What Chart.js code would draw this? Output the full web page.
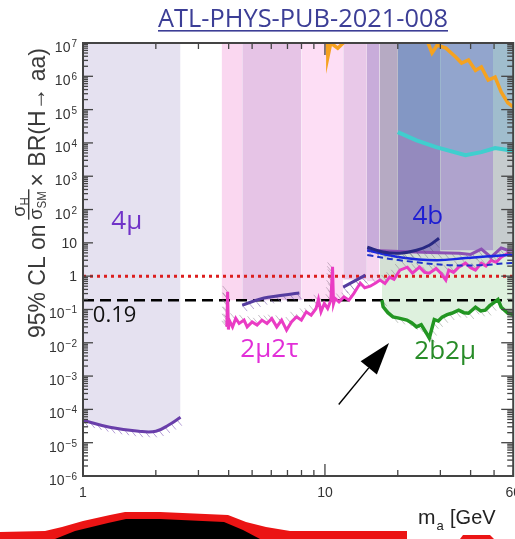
<!DOCTYPE html>
<html>
<head>
<meta charset="utf-8">
<script src="https://cdn.jsdelivr.net/npm/chart.js@4.4.1/dist/chart.umd.min.js"></script>
<style>
  html, body { margin: 0; padding: 0; background: #fff; overflow: hidden; }
</style>
</head>
<body>
<canvas id="limitChart" width="530" height="539"></canvas>
<script>
// m_a in GeV, 95% CL limits on sigma_H/sigma_SM x BR(H->aa)
const mu4Mass  = [1.0, 1.29, 1.70, 2.0, 2.26, 2.53];
const mu4Limit = [4.7e-5, 2.9e-5, 2.2e-5, 2.2e-5, 3.4e-5, 5.8e-5];

const tauMass  = [3.93, 3.96, 3.99, 4.02, 4.15, 4.28, 4.42, 4.63, 4.77, 5.0, 5.24, 5.49, 5.76, 6.03, 6.32, 6.62, 6.94, 7.27, 7.62, 7.99, 8.37, 8.77, 9.19, 9.4, 9.63, 9.94, 10.26, 10.58, 10.75, 10.85, 11.01, 11.43, 11.98, 12.56, 13.15, 14.0, 14.6, 15.38, 16.2, 16.89, 17.7, 18.5, 19.3, 20.4, 21.9, 23.0, 24.6, 25.8, 27.0, 28.8, 30.2, 31.6, 32.5, 34.0, 35.7, 38.1, 40.0, 41.9, 44.3, 46.3, 48.6, 51.0, 53.5, 57.0, 60];
const tauLimit = [0.030, 0.34, 0.025, 0.048, 0.030, 0.054, 0.038, 0.048, 0.030, 0.042, 0.034, 0.048, 0.038, 0.054, 0.030, 0.048, 0.024, 0.042, 0.060, 0.048, 0.085, 0.067, 0.107, 0.2, 0.085, 0.151, 0.107, 0.19, 1.9, 0.15, 0.214, 0.169, 0.239, 0.19, 0.30, 0.62, 0.45, 0.5, 0.62, 0.76, 0.6, 0.93, 0.8, 1.51, 1.86, 1.23, 1.86, 1.3, 1.23, 1.7, 1.2, 0.76, 1.51, 1.3, 1.86, 2.46, 1.8, 1.51, 2.46, 2.0, 3.0, 2.6, 3.7, 4.9, 4.0];

// second 2mu2tau result (two short pieces, null = gap)
const tau2Mass  = [4.55, 5.6, 7.84, 9.0, 11.9, 14.7];
const tau2Limit = [0.135, 0.22, 0.31, null, 0.47, 1.07];

const bbMuMass  = [17.2, 17.4, 18.2, 19.1, 20.2, 21.8, 22.8, 23.9, 25.0, 26.2, 27.0, 28.3, 29.4, 30.5, 32.0, 33.4, 35.7, 37.5, 39.2, 41.9, 44.0, 46.0, 48.0, 49.6, 51.9, 53.5, 57.0, 60];
const bbMuLimit = [0.19, 0.12, 0.08, 0.06, 0.055, 0.048, 0.04, 0.03, 0.035, 0.02, 0.0137, 0.05, 0.045, 0.059, 0.07, 0.077, 0.095, 0.08, 0.077, 0.117, 0.09, 0.095, 0.13, 0.155, 0.2, 0.117, 0.077, 0.07];

const bbNavyMass  = [14.96, 17.4, 20.4, 23.9, 27.0, 29.6];
const bbNavyLimit = [7.4, 5.3, 4.9, 6.0, 8.5, 13.8];
const bbObsMass   = [14.96, 20.4, 28.8, 38.1, 57.0, 60];
const bbObsLimit  = [6.0, 3.7, 3.0, 3.5, 4.3, 4.3];
const bbExpMass   = [14.96, 20.4, 32.5, 44.3, 57.0, 60];
const bbExpLimit  = [4.3, 3.0, 2.14, 2.14, 2.46, 2.5];
const bbAltMass   = [14.96, 20.4, 29.6, 36.0, 40.0, 44.3, 48.6, 53.5, 57.0, 60];
const bbAltLimit  = [6.0, 5.5, 5.0, 4.9, 4.5, 6.5, 3.7, 7.0, 6.0, 6.0];

const cyanMass  = [20.0, 23.9, 28.8, 38.1, 44.3, 50.5, 57.0, 60];
const cyanLimit = [2.1e4, 1.2e4, 7.5e3, 4.3e3, 5.3e3, 7e3, 6.1e3, 6e3];

const orangeMass  = [10.2, 10.28, 10.57, 11.3, 11.9, 12.1, 20.0, 26.3, 27.7, 29.1, 31.6, 34.7, 36.7, 39.2, 41.9, 44.3, 47.3, 50.5, 53.5, 57.0, 60];
const orangeLimit = [1.2e7, 3.8e6, 1e7, 7e6, 1e7, 1.3e7, null, 1.3e7, 5e6, 8.6e6, 7e6, 3.8e6, 2.5e6, 3.1e6, 1.5e6, 1.9e6, 7.7e5, 9.5e5, 3.4e5, 1.6e5, 1.2e5];

// excluded mass windows (top down to a floor value)
const bandFrom  = [3.74, 4.55, 8.0, 11.9, 14.9, 16.8, 20, 30, 49.5];
const bandTo    = [4.55, 8.0, 11.9, 14.9, 16.8, 20, 30, 49.5, 60];
const bandFloor = [0.19, 0.19, 0.2, 0.8, 5.3, 5.0, 5.0, 6.0, 6.0];

const smRef = 1;
const brRef = 0.19;

const yTickValues = [1e7, 1e6, 1e5, 1e4, 1e3, 1e2, 10, 1, 0.1, 1e-2, 1e-3, 1e-4, 1e-5, 1e-6];
const yTickBase   = ['10', '10', '10', '10', '10', '10', '10', '1', '10', '10', '10', '10', '10', '10'];
const yTickExp    = ['7', '6', '5', '4', '3', '2', '', '', '\u22121', '\u22122', '\u22123', '\u22124', '\u22125', '\u22126'];
const xTickValues = [1, 10, 60];
const xTickLabels = ['1', '10', '60'];

// styles
const bandColors = ['rgb(250,215,240)', 'rgb(230,196,230)', 'rgb(253,222,245)', 'rgb(232,200,232)',
                    'rgb(200,172,218)', 'rgb(182,170,195)', 'rgb(148,138,190)', 'rgb(175,163,205)', 'rgb(198,204,206)'];
const SANS = '"Liberation Sans", Arial, sans-serif';
const OPEN = '"Open Sans", "Noto Sans", sans-serif';

function pts(xs, ys) {
    return xs.map((x, i) => ({ x: x, y: ys[i] }));
}

const datasets = [];
const hatchSets = []; // [dataset index, colour, dx, dy]

// 2b2mu excluded region (light green), fill to top
datasets.push({ data: pts(bbMuMass, bbMuLimit), fill: 'end', backgroundColor: 'rgb(222,241,222)', borderWidth: 0, order: 40 });
// 2mu2tau high mass part, grey-green
const hiTau = tauMass.map((m, i) => ({ x: m, y: tauLimit[i] })).filter(p => p.x >= 16.8);
datasets.push({ data: hiTau, fill: 'end', backgroundColor: 'rgb(212,224,212)', borderWidth: 0, order: 39 });
datasets.push({ data: pts([14.9, 16.8], [0.7, 0.7]), fill: 'end', backgroundColor: 'rgb(246,214,240)', borderWidth: 0, order: 38 });

bandFrom.forEach((x0, i) => {
    datasets.push({
        data: pts([x0, bandTo[i]], [bandFloor[i], bandFloor[i]]),
        fill: 'end', backgroundColor: bandColors[i], borderWidth: 0, order: 30
    });
});

// cyan limit with the bluish shade above it
datasets.push({ data: pts(cyanMass, cyanLimit), fill: 'end', backgroundColor: 'rgba(108,170,205,0.42)',
                borderColor: 'rgb(64,206,206)', borderWidth: 4, order: 20 });

// 4mu
hatchSets.push([datasets.length, 'rgba(120,80,180,0.55)', 5, 6]);
datasets.push({ data: pts(mu4Mass, mu4Limit), fill: 'end', backgroundColor: 'rgb(229,225,240)',
                borderColor: 'rgb(105,62,170)', borderWidth: 3, tension: 0.4, order: 18 });

// reference lines
datasets.push({ data: pts([1, 60], [smRef, smRef]), borderColor: 'rgb(220,30,30)', borderWidth: 3, borderDash: [3, 4], order: 12 });
datasets.push({ data: pts([1, 60], [brRef, brRef]), borderColor: '#000', borderWidth: 2.5, borderDash: [11, 6], order: 12 });

hatchSets.push([datasets.length, 'rgba(130,110,130,0.45)', -5, -6]);
datasets.push({ data: pts(tauMass, tauLimit), borderColor: 'rgb(234,60,196)', borderWidth: 3, order: 6 });
hatchSets.push([datasets.length, 'rgba(110,80,170,0.5)', 5, 6]);
datasets.push({ data: pts(tau2Mass, tau2Limit), borderColor: 'rgb(85,60,160)', borderWidth: 3, tension: 0.3, order: 5 });
hatchSets.push([datasets.length, 'rgba(120,130,120,0.45)', 5, 6]);
datasets.push({ data: pts(bbMuMass, bbMuLimit), borderColor: 'rgb(34,150,34)', borderWidth: 3.5, order: 6 });
hatchSets.push([datasets.length, 'rgba(110,110,130,0.45)', 5, 6]);
datasets.push({ data: pts(bbAltMass, bbAltLimit), borderColor: 'rgb(140,80,180)', borderWidth: 3, order: 5 });
datasets.push({ data: pts(bbExpMass, bbExpLimit), borderColor: 'rgb(30,50,200)', borderWidth: 2, borderDash: [6, 4], tension: 0.4, order: 4 });
datasets.push({ data: pts(bbObsMass, bbObsLimit), borderColor: 'rgb(25,40,225)', borderWidth: 2.5, tension: 0.4, order: 4 });
hatchSets.push([datasets.length, 'rgba(90,90,120,0.45)', 5, 6]);
datasets.push({ data: pts(bbNavyMass, bbNavyLimit), borderColor: 'rgb(40,40,130)', borderWidth: 3, tension: 0.4, order: 3 });
datasets.push({ data: pts(orangeMass, orangeLimit), borderColor: 'rgb(245,162,32)', borderWidth: 3.5, order: 3 });

// short hatch strokes along a limit curve, on its allowed side
function drawHatch(chart, idx, color, hx, hy) {
    const ctx = chart.ctx;
    const a = chart.chartArea;
    const els = chart.getDatasetMeta(idx).data;
    ctx.save();
    ctx.beginPath();
    ctx.rect(a.left, a.top, a.right - a.left, a.bottom - a.top);
    ctx.clip();
    ctx.strokeStyle = color;
    ctx.lineWidth = 1;
    let carry = 0;
    for (let i = 1; i < els.length; i++) {
        const p0 = els[i - 1], p1 = els[i];
        if (p0.skip || p1.skip) { carry = 0; continue; }
        const dx = p1.x - p0.x, dy = p1.y - p0.y;
        const len = Math.hypot(dx, dy);
        let s = carry;
        while (s < len) {
            const px = p0.x + dx * s / len, py = p0.y + dy * s / len;
            ctx.beginPath(); ctx.moveTo(px, py); ctx.lineTo(px + hx, py + hy); ctx.stroke();
            s += 7;
        }
        carry = s - len;
    }
    ctx.restore();
}

// axes, titles, labels and the rest of the picture
const decor = {
    id: 'decor',
    beforeDatasetDraw(chart, args) {
        hatchSets.forEach(h => { if (h[0] === args.index) drawHatch(chart, h[0], h[1], h[2], h[3]); });
    },
    afterDatasetsDraw(chart) {
        const { ctx, chartArea: a, scales: { x, y } } = chart;
        ctx.save();
        ctx.strokeStyle = '#444';
        ctx.lineWidth = 1.3;
        const seg = (x1, y1, x2, y2) => { ctx.beginPath(); ctx.moveTo(x1, y1); ctx.lineTo(x2, y2); ctx.stroke(); };
        for (let e = -6; e <= 6; e++) {
            for (let k = 1; k <= 9; k++) {
                const py = y.getPixelForValue(k * Math.pow(10, e));
                const len = k === 1 ? 10 : 5;
                seg(a.left, py, a.left + len, py);
                seg(a.right, py, a.right - (k === 1 ? 12 : 6), py);
            }
        }
        for (let e = 0; e <= 1; e++) {
            for (let k = 1; k <= 9; k++) {
                const m = k * Math.pow(10, e);
                if (m > 60) break;
                const px = x.getPixelForValue(m);
                const len = k === 1 ? 12 : 6;
                seg(px, a.bottom, px, a.bottom - len);
                seg(px, a.top, px, a.top + len);
            }
        }
        ctx.lineWidth = 2;
        ctx.strokeRect(a.left, a.top, a.right - a.left, a.bottom - a.top);
        ctx.restore();
    },
    afterDraw(chart) {
        const { ctx, chartArea: a, scales: { x, y } } = chart;
        ctx.save();

        // y tick labels with raised exponents
        ctx.fillStyle = '#333';
        ctx.textAlign = 'right';
        yTickValues.forEach((v, i) => {
            const py = y.getPixelForValue(v);
            const right = a.left - 6;
            let ew = 0;
            if (yTickExp[i]) {
                ctx.font = '10px ' + SANS;
                ew = ctx.measureText(yTickExp[i]).width + 1;
                ctx.fillText(yTickExp[i], right, py + 4);
                ctx.font = '14px ' + SANS;
                ctx.fillText(yTickBase[i], right - ew, py + 9);
            } else {
                ctx.font = '14px ' + SANS;
                ctx.fillText(yTickBase[i], right, py + 5);
            }
        });

        // page title
        ctx.textAlign = 'left';
        ctx.fillStyle = 'rgb(60,62,150)';
        ctx.font = '25px ' + OPEN;
        const t = 'ATL-PHYS-PUB-2021-008';
        const tw = ctx.measureText(t).width;
        ctx.save();
        ctx.translate(158, 27);
        ctx.scale(290 / tw, 1);
        ctx.fillText(t, 0, 0);
        ctx.restore();
        ctx.fillRect(158, 30, 290, 1.6);

        // rotated y title
        ctx.save();
        ctx.fillStyle = '#3a3a3a';
        ctx.translate(45, 338);
        ctx.rotate(-Math.PI / 2);
        ctx.font = '24px ' + SANS;
        const p1 = '95% CL on';
        const w1 = ctx.measureText(p1).width;
        ctx.font = '19px ' + SANS;
        const sw = ctx.measureText('\u03c3').width;
        ctx.font = '12px ' + SANS;
        const smw = ctx.measureText('SM').width;
        const fracW = sw + smw + 2;
        ctx.font = '24px ' + SANS;
        const p3 = '\u00d7 BR(H\u2192 aa)';
        const w3 = ctx.measureText(p3).width;
        const total = w1 + 5 + fracW + 3 + w3;
        ctx.scale(290 / total, 1);
        ctx.fillText(p1, 0, 0);
        let p = w1 + 5;
        ctx.font = '19px ' + SANS;
        ctx.fillText('\u03c3', p + 3, -20);
        ctx.fillText('\u03c3', p, -3);
        ctx.font = '12px ' + SANS;
        ctx.fillText('H', p + 3 + sw, -16);
        ctx.fillText('SM', p + sw, 1);
        ctx.fillRect(p, -17, fracW, 1.4);
        p += fracW + 3;
        ctx.font = '24px ' + SANS;
        ctx.fillText(p3, p, 0);
        ctx.restore();

        // x title
        ctx.fillStyle = '#222';
        ctx.font = '21px ' + SANS;
        ctx.fillText('m', 418, 524);
        const mw = ctx.measureText('m').width;
        ctx.font = '13px ' + SANS;
        ctx.fillText('a', 418 + mw + 1, 530);
        ctx.font = '20px ' + SANS;
        ctx.fillText(' [GeV', 418 + mw + 9, 524);

        // channel labels
        const label = (txt, m, v, color, size, font) => {
            ctx.fillStyle = color;
            ctx.font = size + 'px ' + (font || OPEN);
            ctx.fillText(txt, x.getPixelForValue(m), y.getPixelForValue(v));
        };
        label('4\u03bc', 1.31, 25.8, 'rgb(112,50,200)', 26);
        label('2\u03bc2\u03c4', 4.47, 0.0037, 'rgb(226,46,216)', 26);
        label('4b', 23.0, 36.6, 'rgb(30,30,210)', 26);
        label('2b2\u03bc', 23.4, 0.0032, 'rgb(40,140,40)', 26);
        label('0.19', 1.098, 0.0414, '#111', 22);

        // arrow pointing at the 2b2mu region
        const tx = x.getPixelForValue(18.4), ty = y.getPixelForValue(0.0098);
        const sx = x.getPixelForValue(11.4), sy = y.getPixelForValue(1.4e-4);
        const dx = tx - sx, dy = ty - sy, dl = Math.hypot(dx, dy);
        const ux = dx / dl, uy = dy / dl;
        const bx = tx - ux * 32, by = ty - uy * 32;
        ctx.strokeStyle = '#000';
        ctx.lineWidth = 1.4;
        ctx.beginPath(); ctx.moveTo(sx, sy); ctx.lineTo(bx, by); ctx.stroke();
        ctx.fillStyle = '#000';
        ctx.beginPath();
        ctx.moveTo(tx, ty);
        ctx.lineTo(bx - uy * 10.5, by + ux * 10.5);
        ctx.lineTo(bx + uy * 10.5, by - ux * 10.5);
        ctx.closePath();
        ctx.fill();

        // dark shape at the bottom edge
        ctx.fillStyle = 'rgb(235,20,20)';
        ctx.beginPath();
        ctx.moveTo(0, 532);
        [[45, 531], [62, 527], [83, 521], [110, 515], [125, 512], [160, 512], [228, 515], [246, 522], [266, 527], [290, 531], [407, 531], [407, 539], [0, 539]]
            .forEach(q => ctx.lineTo(q[0], q[1]));
        ctx.closePath();
        ctx.fill();
        ctx.fillStyle = '#000';
        ctx.beginPath();
        ctx.moveTo(55, 539);
        [[75, 531], [108, 523], [126, 519], [160, 519], [224, 522], [243, 530], [260, 539]]
            .forEach(q => ctx.lineTo(q[0], q[1]));
        ctx.closePath();
        ctx.fill();
        ctx.fillStyle = 'rgb(235,20,20)';
        ctx.beginPath();
        ctx.moveTo(460, 539); ctx.lineTo(463, 535); ctx.lineTo(490, 535); ctx.lineTo(494, 539);
        ctx.closePath();
        ctx.fill();

        ctx.restore();
    }
};

const limitChart = new Chart(document.getElementById('limitChart'), {
    type: 'line',
    data: { datasets: datasets },
    options: {
        responsive: false,
        animation: false,
        events: [],
        layout: { padding: { top: 43, right: 10, bottom: 0, left: 0 } },
        elements: { point: { radius: 0 }, line: { tension: 0, fill: false } },
        plugins: { legend: { display: false }, tooltip: { enabled: false } },
        scales: {
            x: {
                type: 'logarithmic', min: 1, max: 60,
                grid: { display: false, drawTicks: false },
                border: { display: false },
                afterFit: function(s) { s.height = 63; },
                afterBuildTicks: function(s) { s.ticks = xTickValues.map(v => ({ value: v })); },
                ticks: {
                    autoSkip: false, maxRotation: 0, padding: 9, color: '#333',
                    font: { family: 'Liberation Sans', size: 14 },
                    callback: function(value, index) { return xTickLabels[index]; }
                }
            },
            y: {
                type: 'logarithmic', min: 1e-6, max: 1e7,
                grid: { display: false, drawTicks: false },
                border: { display: false },
                ticks: { display: false },
                afterFit: function(s) { s.width = 83; }
            }
        }
    },
    plugins: [decor]
});
</script>
</body>
</html>
